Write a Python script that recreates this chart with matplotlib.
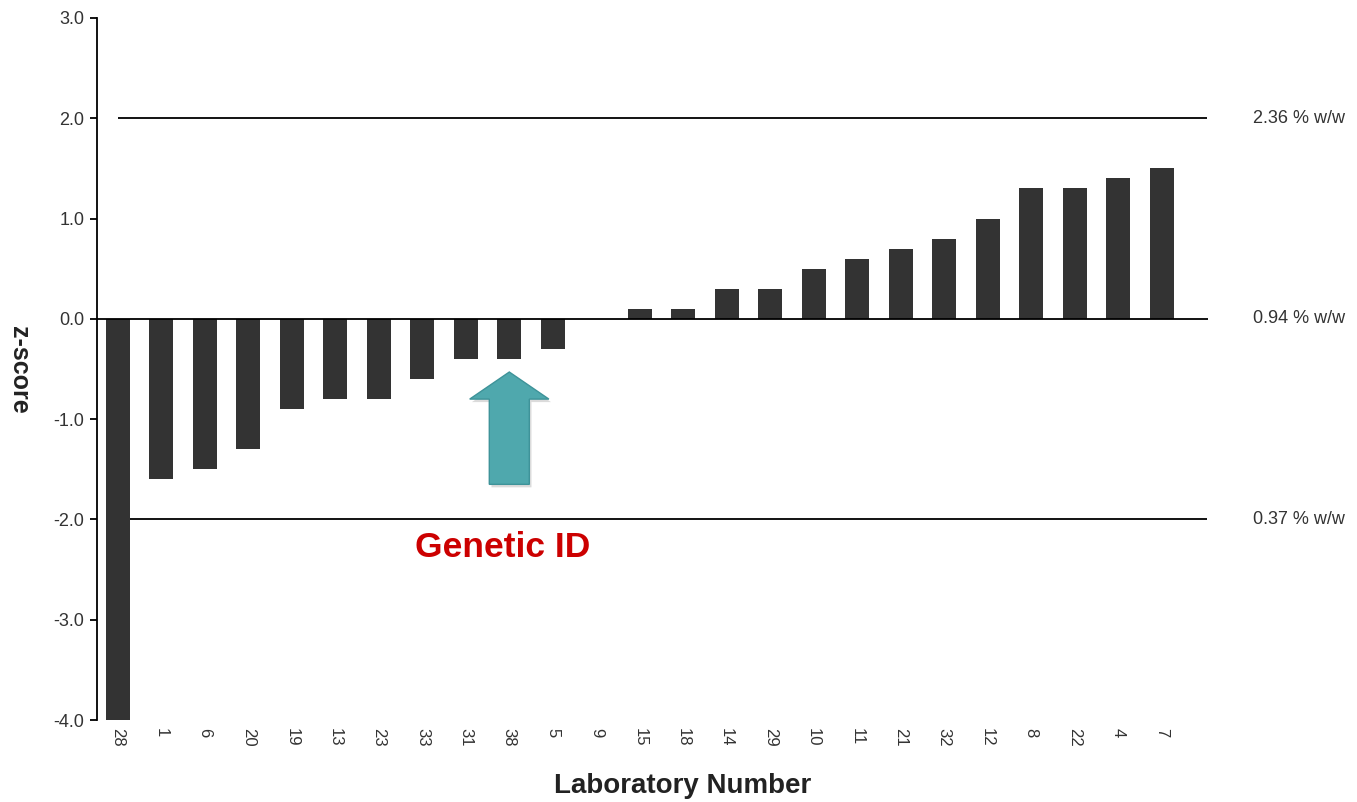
import matplotlib
matplotlib.use('Agg')
import matplotlib.pyplot as plt
import matplotlib.transforms as mtransforms
from matplotlib.patches import FancyArrow

plt.rcParams['font.family'] = ['Liberation Sans', 'DejaVu Sans']

# Datos
laboratorios = ['28', '1', '6', '20', '19', '13', '23', '33', '31', '38', '5', '9',
                '15', '18', '14', '29', '10', '11', '21', '32', '12', '8', '22', '4', '7']
z_scores = [-4.0, -1.6, -1.5, -1.3, -0.9, -0.8, -0.8, -0.6, -0.4, -0.4, -0.3, 0.0,
            0.1, 0.1, 0.3, 0.3, 0.5, 0.6, 0.7, 0.8, 1.0, 1.3, 1.3, 1.4, 1.5]
niveles = [2.0, 0.0, -2.0]
etiquetas_niveles = ['2.36 % w/w', '0.94 % w/w', '0.37 % w/w']
lab_destacado = '38'

fig = plt.figure(figsize=(13.57, 8.02), dpi=100)
ax = fig.add_axes([0.0715, 0.1022, 0.8185, 0.8754])

x = list(range(len(laboratorios)))
ax.bar(x, z_scores, width=0.55, color='#333333', zorder=2)

# Lineas de referencia
ax.hlines([2.0, -2.0], 0, len(laboratorios) + 0.05, color='black', lw=1.3, zorder=1)
ax.axhline(0.0, color='black', lw=1.3, zorder=3)

ax.set_xlim(-0.48, len(laboratorios) + 0.06)
ax.set_ylim(-4.0, 3.0)
yticks = [3, 2, 1, 0, -1, -2, -3, -4]
ax.set_yticks(yticks)
ax.set_yticklabels(['%.1f' % v for v in yticks], fontsize=13, color='#333333')
ax.set_xticks(x)
ax.set_xticklabels(laboratorios, rotation=270, fontsize=12, color='#333333')
ax.tick_params(axis='x', length=0, pad=6)
ax.tick_params(axis='y', direction='out', length=5, width=1.3, pad=4)

for lado in ['top', 'right', 'bottom']:
    ax.spines[lado].set_visible(False)
ax.spines['left'].set_linewidth(1.3)

ax.set_ylabel('z-score', fontsize=18, fontweight='bold', rotation=270, color='#222222',
              va='center', ha='center')
ax.yaxis.set_label_coords(-0.070, 0.499)
ax.set_xlabel('Laboratory Number', fontsize=20, fontweight='bold', color='#222222')
ax.xaxis.set_label_coords(0.527, -0.075)

# Etiquetas a la derecha
trans = mtransforms.blended_transform_factory(fig.transFigure, ax.transData)
for nivel, texto in zip(niveles, etiquetas_niveles):
    ax.text(1253 / 1357, nivel, texto, transform=trans, fontsize=13,
            va='center', ha='left', color='#333333')

# Flecha Genetic ID
i = laboratorios.index(lab_destacado)
sombra = FancyArrow(i + 0.05, -1.68, 0, 1.12, width=0.92, head_width=1.82, head_length=0.27,
                    length_includes_head=True, facecolor='#999999', edgecolor='none',
                    alpha=0.35, zorder=3)
ax.add_patch(sombra)
flecha = FancyArrow(i, -1.65, 0, 1.12, width=0.92, head_width=1.82, head_length=0.27,
                    length_includes_head=True, facecolor='#4FA8AD', edgecolor='#3E9399',
                    lw=1, zorder=4)
ax.add_patch(flecha)
ax.text(8.85, -2.28, 'Genetic ID', fontsize=25.5, fontweight='bold', color='#CC0000',
        ha='center', va='center')

fig.savefig('out.png', dpi=100)
